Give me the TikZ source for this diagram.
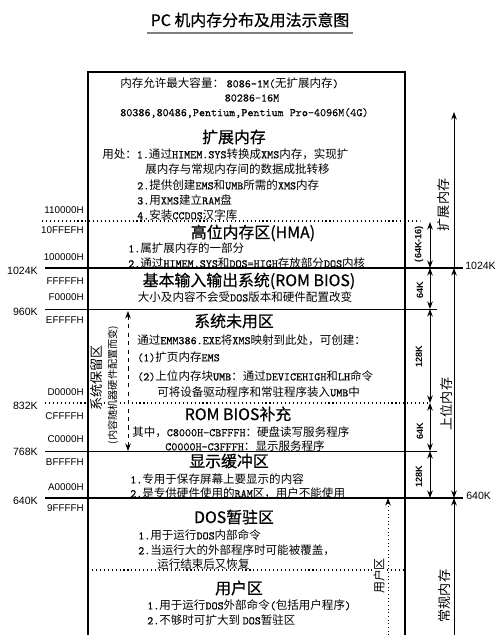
\documentclass[tikz,border=0pt]{standalone}
\usepackage{fontspec}
\setmainfont{Noto Sans CJK SC}
\newfontfamily\cjkfnt{Noto Sans CJK SC}
\newfontfamily\latfnt[FakeBold=0.3]{lmmono10-regular.otf}
\newfontfamily\headfont[FakeBold=0.6]{Noto Sans CJK SC}
\newfontfamily\addrfont{Liberation Sans}
\usetikzlibrary{arrows.meta, positioning}
% body text: Chinese in Noto Sans CJK, Latin in a half-width mono
\makeatletter
\newXeTeXintercharclass\cjkcls
\count@="21 \loop \XeTeXcharclass\count@=0 \advance\count@ 1 \ifnum\count@<"7F \repeat
\count@="3000 \loop \XeTeXcharclass\count@=\cjkcls \advance\count@ 1 \ifnum\count@<"3040 \repeat
\count@="4E00 \loop \XeTeXcharclass\count@=\cjkcls \advance\count@ 1 \ifnum\count@<"A000 \repeat
\count@="FF00 \loop \XeTeXcharclass\count@=\cjkcls \advance\count@ 1 \ifnum\count@<"FFF0 \repeat
\makeatother
\XeTeXinterchartoks 0 \cjkcls = {\cjkfnt}
\XeTeXinterchartoks 4095 \cjkcls = {\cjkfnt}
\XeTeXinterchartoks \cjkcls 0 = {\latfnt}
\XeTeXinterchartoks 4095 0 = {\latfnt}
\tikzset{
  frameline/.style = {line width=1.5pt, black},
  thinrule/.style  = {line width=0.6pt},
  boldrule/.style  = {line width=1.5pt},
  dotrule/.style   = {dotted, line width=0.8pt},
  head/.style      = {font=\headfont\fontsize{11.3}{12}\selectfont, inner sep=0pt},
  txt/.style       = {font={\XeTeXinterchartokenstate=1 \fontsize{8.2}{9}\selectfont},
                      anchor=west, inner sep=0pt},
  addr/.style      = {font=\addrfont\fontsize{7}{8}\selectfont, anchor=east, inner sep=0pt},
  kbl/.style       = {font=\addrfont\fontsize{7.5}{8}\selectfont, inner sep=0pt},
  sizelbl/.style   = {rotate=90, font=\addrfont\bfseries\fontsize{6.5}{7}\selectfont, inner sep=0pt},
  vlbl/.style      = {rotate=90, font=\fontsize{9.3}{10}\selectfont, fill=white, inner sep=1pt},
  span/.style      = {{Stealth[length=1.9mm,width=1.4mm]}-{Stealth[length=1.9mm,width=1.4mm]}, line width=0.6pt},
  upto/.style      = {-{Stealth[length=1.9mm,width=1.4mm]}, line width=0.6pt},
}

\begin{document}
\begin{tikzpicture}[x=0.025cm, y=-0.025cm]
  \useasboundingbox (0,0) rectangle (500,635);

  % title
  \node[head] (title) at (250,20) {PC 机内存分布及用法示意图};
  \coordinate (ulA) at (147,33); \coordinate (ulB) at (353,33);
  \draw[gray, line width=1.3pt] (ulA) -- (ulB);

  % frame and region rules
  \draw[frameline] (88,635) -- (88,72) -- (405,72) -- (405,635);
  \draw[dotrule]  (42,221) -- (420,221);
  \draw[boldrule] (45,268) -- (463,268);
  \draw[thinrule] (45,309) -- (437,309);
  \draw[dotrule]  (45,403) -- (430,403);
  \draw[thinrule] (45,451) -- (437,451);
  \draw[boldrule] (45,498) -- (463,498);
  \draw[dotrule]  (88,570) -- (405,570);

  % addresses
  \foreach \a/\y in {110000H/210, 10FFEFH/230, 100000H/257, FFFFFH/281,
                     F0000H/297, EFFFFH/320, D0000H/392, CFFFFH/416,
                     C0000H/439, BFFFFH/462, A0000H/487, 9FFFFH/508}
    \node[addr] (h-\a) at (84,\y) {\a};
  \foreach \k/\y in {1024K/271, 960K/312, 832K/406, 768K/452, 640K/501}
    \node[kbl, anchor=east] (k-\k) at (38,\y) {\k};
  \node[kbl, anchor=west] (rk-1024) at (465,266) {1024K};
  \node[kbl, anchor=west] (rk-640) at (466,496) {640K};

  % extended memory
  \node[txt] (t1) at (120,83) {内存允许最大容量：\ 8086-1M(无扩展内存)};
  \node[txt, anchor=center] (t2) at (252,98) {80286-16M};
  \node[txt] (t3) at (120,113) {80386,80486,Pentium,Pentium Pro-4096M(4G)};
  \node[head] (xms) at (234,137) {扩展内存};
  \node[txt] (t4) at (102,154) {用处：1.通过HIMEM.SYS转换成XMS内存，实现扩};
  \node[txt] (t5) at (145,169) {展内存与常规内存间的数据成批转移};
  \node[txt] (t6) at (137,185) {2.提供创建EMS和UMB所需的XMS内存};
  \node[txt] (t7) at (137,200) {3.用XMS建立RAM盘};
  \node[txt] (t8) at (137,215) {4.安装CCDOS汉字库};

  % HMA
  \node[head] (hma) at (253,233) {高位内存区(HMA)};
  \node[txt] (t9) at (128,248) {1.属扩展内存的一部分};
  \node[txt] (t10) at (128,263) {2.通过HIMEM.SYS和DOS=HIGH存放部分DOS内核};

  % ROM BIOS
  \node[head] (bios) at (249,281) {基本输入输出系统(ROM BIOS)};
  \node[txt, anchor=center] (t11) at (245,297) {大小及内容不会受DOS版本和硬件配置改变};

  % unused area
  \node[head] (unused) at (234,321) {系统未用区};
  \node[txt] (t12) at (137,340) {通过EMM386.EXE将XMS映射到此处，可创建：};
  \node[txt] (t13) at (137,357) {(1)扩页内存EMS};
  \node[txt] (t14) at (137,376) {(2)上位内存块UMB：通过DEVICEHIGH和LH命令};
  \node[txt] (t15) at (157,392) {可将设备驱动程序和常驻程序装入UMB中};

  % ROM BIOS supplement
  \node[head] (biosx) at (238,414) {ROM BIOS补充};
  \node[txt] (t16) at (132,432) {其中，C8000H-CBFFFH：硬盘读写服务程序};
  \node[txt] (t17) at (165,446) {C0000H-C3FFFH：显示服务程序};

  % display buffer
  \node[head] (vbuf) at (229,461) {显示缓冲区};
  \node[txt] (t18) at (130,479) {1.专用于保存屏幕上要显示的内容};
  \node[txt] (t19) at (130,493) {2.是专供硬件使用的RAM区，用户不能使用};

  % DOS transient
  \node[head] (trans) at (234,517) {DOS暂驻区};
  \node[txt] (t20) at (138,535) {1.用于运行DOS内部命令};
  \node[txt] (t21) at (138,550) {2.当运行大的外部程序时可能被覆盖，};
  \node[txt] (t22) at (157,564) {运行结束后又恢复};

  % user area
  \node[head] (user) at (239,588) {用户区};
  \node[txt] (t23) at (147,605) {1.用于运行DOS外部命令(包括用户程序)};
  \node[txt] (t24) at (147,620) {2.不够时可扩大到 DOS暂驻区};

  % system reserved (left)
  \coordinate (resT) at (128,311); \coordinate (resB) at (128,451);
  \draw[span, dashed] (resT) -- (resB);
  \node[vlbl] (sysres) at (97,378) {系统保留区};
  \node[vlbl, font=\fontsize{7.2}{8}\selectfont] (hwnote) at (113,385) {(内容随机器硬件配置而变)};

  % size arrows (right)
  \coordinate (r0) at (430,222); \coordinate (r1) at (430,268);
  \coordinate (r2) at (430,309); \coordinate (r3) at (430,403);
  \coordinate (r4) at (430,451); \coordinate (r5) at (430,498);
  \draw[span] (r0) -- (r1);
  \draw[span] (r1) -- (r2);
  \draw[span] (r2) -- (r3);
  \draw[span] (r3) -- (r4);
  \draw[span] (r4) -- (r5);
  \node[sizelbl] (s0) at (419,244) {(64K-16)};
  \node[sizelbl] (s1) at (420,290) {64K};
  \node[sizelbl] (s2) at (419,357) {128K};
  \node[sizelbl] (s3) at (420,431) {64K};
  \node[sizelbl] (s4) at (419,477) {128K};

  % memory classes (right)
  \coordinate (m0) at (454,112); \coordinate (m1) at (454,268);
  \coordinate (m2) at (454,498); \coordinate (m3) at (454,635);
  \draw[upto] (m1) -- (m0);
  \draw[span] (m1) -- (m2);
  \draw[upto] (m3) -- (m2);
  \node[vlbl] (lxms) at (444,205) {扩展内存};
  \node[vlbl] (lumb) at (446,404) {上位内存};
  \node[vlbl] (lconv) at (445,596) {常规内存};

  % user area arrow
  \coordinate (u0) at (388,635); \coordinate (u1) at (388,498);
  \draw[upto, dotted] (u0) -- (u1);
  \node[vlbl, font=\fontsize{8.5}{9}\selectfont] (luser) at (379,576) {用户区};
\end{tikzpicture}
\end{document}
